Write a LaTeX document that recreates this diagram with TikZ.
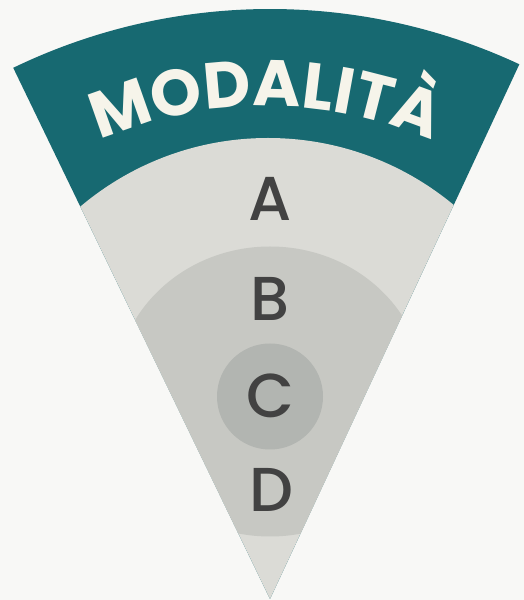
\documentclass[tikz,border=0pt]{standalone}
\usepackage{fontspec}
\usetikzlibrary{decorations.text}
\newfontfamily\modfont{Poppins Bold}
\newfontfamily\letfont{Poppins Medium}
\definecolor{bgc}{RGB}{248,248,246}
\definecolor{bandteal}{RGB}{23,105,113}
\definecolor{creamc}{RGB}{246,244,234}
\definecolor{zonea}{RGB}{219,219,214}
\definecolor{zoneb}{RGB}{199,200,195}
\definecolor{zonec}{RGB}{178,181,177}
\definecolor{letterc}{RGB}{66,66,66}
\tikzset{
  zoneletter/.style={font=\letfont\fontsize{62}{62}\selectfont, text=letterc, inner sep=0pt, anchor=center},
}
\begin{document}
\begin{tikzpicture}[x=1pt,y=1pt]
\useasboundingbox (0,0) rectangle (524,600);
\fill[bgc] (0,0) rectangle (524,600);
\coordinate (apex) at (270,1);
\coordinate (tc) at (266,77);
\fill[bandteal] (apex) -- ++(65:590) arc[start angle=65,end angle=115.8,radius=590] -- cycle;
\begin{scope}
  \clip (apex) -- ++(65:590) arc[start angle=65,end angle=115.8,radius=590] -- cycle;
  \fill[zonea] (268,171) circle[radius=291];
  \fill[zoneb] (270,208.5) ellipse[x radius=155, y radius=145];
  \fill[zonec] (270,203.5) circle[radius=53];
\end{scope}
\path[decorate, decoration={text along path, text={|\modfont\fontsize{65}{65}\selectfont|MODALITÀ}, text color=creamc, text align=center}]
  (tc) ++(118:417) arc[start angle=118, end angle=62, radius=417];
\node[zoneletter] (A) at (270,401) {A};
\node[zoneletter] (B) at (270,301) {B};
\node[zoneletter] (C) at (270,204) {C};
\node[zoneletter] (D) at (271,110) {D};
\end{tikzpicture}
\end{document}
